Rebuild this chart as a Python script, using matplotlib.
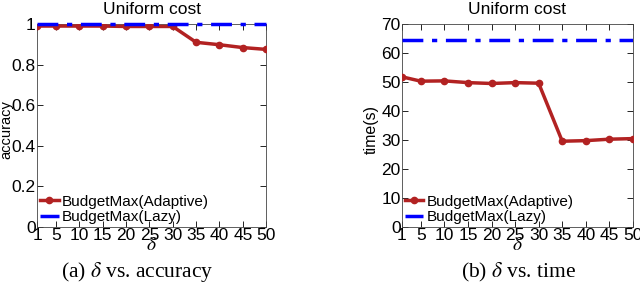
import matplotlib
matplotlib.use("Agg")
import matplotlib.pyplot as plt

plt.rcParams["font.family"] = ["Liberation Sans", "DejaVu Sans"]
plt.rcParams["mathtext.fontset"] = "stix"

delta = [1, 5, 10, 15, 20, 25, 30, 35, 40, 45, 50]
acc_adaptive = [0.99, 0.99, 0.99, 0.99, 0.988, 0.988, 0.988, 0.91, 0.898, 0.884, 0.875]
acc_lazy = [1.0] * len(delta)
time_adaptive = [51.8, 50.3, 50.4, 49.8, 49.5, 49.8, 49.6, 29.6, 29.8, 30.3, 30.5]
time_lazy = [64.6] * len(delta)

xticks = [1, 5, 10, 15, 20, 25, 30, 35, 40, 45, 50]
red = "#B22222"
blue = "#0000FF"

fig = plt.figure(figsize=(6.4, 2.86), dpi=100)
ax1 = fig.add_axes([0.058, 0.206, 0.358, 0.71])
ax2 = fig.add_axes([0.628, 0.206, 0.361, 0.71])


def style(ax, ylim, yticks, ylabels, ylabel, label_x, label_size):
    ax.set_xlim(1, 50)
    ax.set_ylim(*ylim)
    ax.set_xticks(xticks)
    ax.set_yticks(yticks)
    ax.set_yticklabels(ylabels)
    ax.tick_params(direction="in", length=4, labelsize=12.5, pad=1, width=0.6)
    ax.tick_params(top=True, right=True)
    for s in ax.spines.values():
        s.set_linewidth(0.6)
        s.set_color("#444444")
    ax.set_title("Uniform cost", fontsize=12.5, pad=7)
    ax.set_xlabel(r"$\delta$", fontsize=14, labelpad=-5)
    ax.set_ylabel(ylabel, fontsize=label_size)
    ax.yaxis.set_label_coords(label_x, 0.48)


ax1.plot(delta, acc_adaptive, color=red, lw=2.5, marker="o", ms=4.5,
         label="BudgetMax(Adaptive)", zorder=3)
ax1.plot(delta, acc_lazy, color=blue, lw=2.5, ls="-.", dashes=(6, 2.5, 1.5, 2.5),
         label="BudgetMax(Lazy)", zorder=4, clip_on=False)
style(ax1, (0, 1), [0, 0.2, 0.4, 0.6, 0.8, 1.0],
      ["0", "0.2", "0.4", "0.6", "0.8", "1"], "accuracy", -0.103, 10.5)

ax2.plot(delta, time_adaptive, color=red, lw=2.5, marker="o", ms=4.5,
         label="BudgetMax(Adaptive)", zorder=3)
ax2.plot(delta, time_lazy, color=blue, lw=2.5, ls="-.", dashes=(6, 2.5, 1.5, 2.5),
         label="BudgetMax(Lazy)", zorder=4)
style(ax2, (0, 70), [0, 10, 20, 30, 40, 50, 60, 70],
      ["0", "10", "20", "30", "40", "50", "60", "70"], "time(s)", -0.1, 11.5)

for ax in (ax1, ax2):
    ax.legend(loc="lower left", frameon=False, fontsize=11, handlelength=1.2,
              handletextpad=0.2, borderaxespad=0.0, labelspacing=0.1,
              borderpad=0.2)

fig.text(0.215, 0.03, r"(a) $\delta$ vs. accuracy", fontsize=15.5,
         family=["Liberation Serif", "DejaVu Serif"], ha="center")
fig.text(0.81, 0.03, r"(b) $\delta$ vs. time", fontsize=15.5,
         family=["Liberation Serif", "DejaVu Serif"], ha="center")

fig.savefig("out.png", dpi=100)
